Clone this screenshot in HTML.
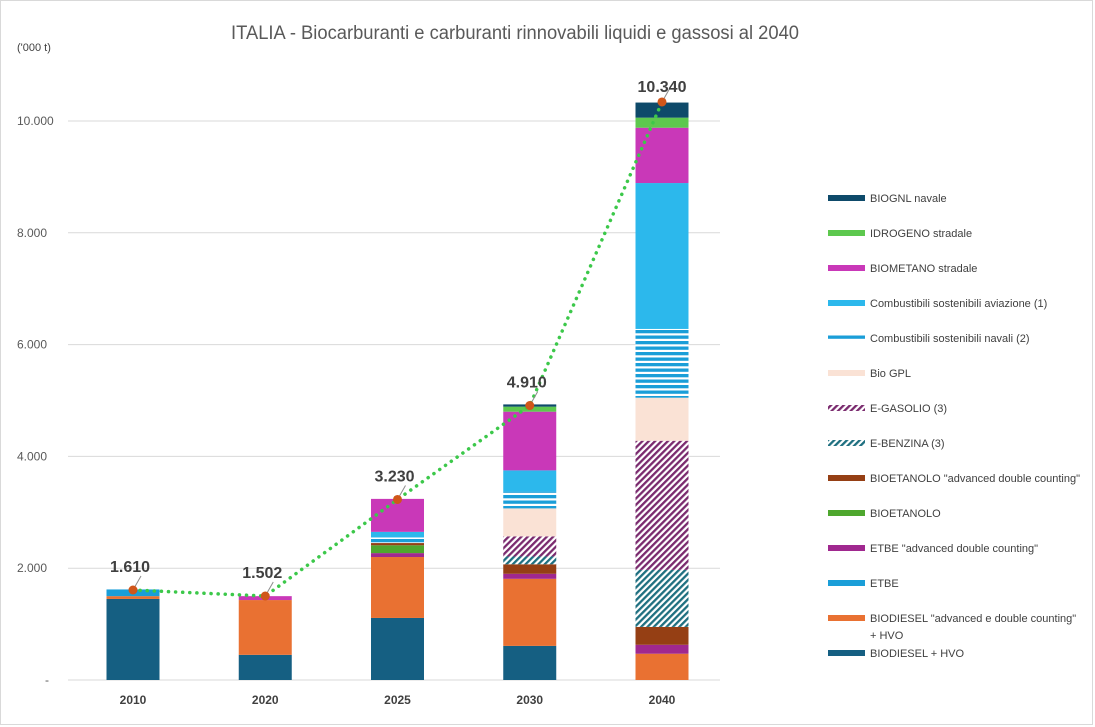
<!DOCTYPE html>
<html><head><meta charset="utf-8">
<style>
html,body{margin:0;padding:0;background:#fff;}
svg{display:block;font-family:"Liberation Sans",sans-serif;}
</style></head>
<body>
<svg id="chart" width="1095" height="727" viewBox="0 0 1095 727">
<defs>
<pattern id="pGas" patternUnits="userSpaceOnUse" width="4.5" height="4.5" patternTransform="rotate(45)">
<rect width="4.5" height="4.5" fill="#fff"/><rect width="2.3" height="4.5" fill="#7a2a6e"/></pattern>
<pattern id="pBenz" patternUnits="userSpaceOnUse" width="4.5" height="4.5" patternTransform="rotate(45)">
<rect width="4.5" height="4.5" fill="#fff"/><rect width="2.3" height="4.5" fill="#1e6f80"/></pattern>
<pattern id="pNav" patternUnits="userSpaceOnUse" width="6" height="5.5">
<rect width="6" height="5.5" fill="#fff"/><rect width="6" height="3.3" fill="#1a9ed8"/></pattern>
</defs>
<rect x="0.5" y="0.5" width="1092" height="724" fill="#fff" stroke="#d9d9d9"/>
<text x="515" y="39" text-anchor="middle" font-size="19" fill="#595959" textLength="568" lengthAdjust="spacingAndGlyphs">ITALIA - Biocarburanti e carburanti rinnovabili liquidi e gassosi  al 2040</text>
<text x="17" y="51" font-size="11" fill="#404040">('000 t)</text>
<g id="grid"></g><g id="bars"></g><g id="line"></g><g id="legend"></g>
</svg>
<script>
const years = ["2010","2020","2025","2030","2040"];
const totals = [1610,1502,3230,4910,10340];
const totalLabels = ["1.610","1.502","3.230","4.910","10.340"];
const yTicks = [0,2000,4000,6000,8000,10000];
const yTickLabels = ["-","2.000","4.000","6.000","8.000","10.000"];
const seriesNames = ["BIODIESEL  + HVO","BIODIESEL  \"advanced e double counting\"","ETBE","ETBE \"advanced double counting\"","BIOETANOLO","BIOETANOLO \"advanced double counting\"","E-BENZINA (3)","E-GASOLIO (3)","Bio GPL","Combustibili sostenibili navali (2)","Combustibili sostenibili aviazione (1)","BIOMETANO stradale","IDROGENO stradale","BIOGNL navale"];
const sBiodiesel = [1450,450,1110,610,0];
const sBiodieselAdv = [50,980,1090,1200,470];
const sEtbe = [120,0,0,0,0];
const sEtbeAdv = [0,0,70,90,160];
const sBioetanolo = [0,0,140,0,0];
const sBioetanoloAdv = [0,0,40,170,320];
const sEBenzina = [0,0,0,140,1020];
const sEGasolio = [0,0,0,360,2310];
const sBioGpl = [0,0,0,500,770];
const sNavali = [0,0,100,300,1230];
const sAviazione = [0,0,100,380,2610];
const sBiometano = [0,70,590,1050,990];
const sIdrogeno = [0,0,0,90,180];
const sBiognl = [0,0,0,40,270];
const seriesData = [sBiodiesel,sBiodieselAdv,sEtbe,sEtbeAdv,sBioetanolo,sBioetanoloAdv,sEBenzina,sEGasolio,sBioGpl,sNavali,sAviazione,sBiometano,sIdrogeno,sBiognl];
const fills = ["#155f82","#e97132","#1a9ed8","#a0288f","#4ea72e","#953f14","url(#pBenz)","url(#pGas)","#fae2d5","url(#pNav)","#2cb8ec","#c938b8","#5dc84e","#0e4a6a"];
const keys = ["biodiesel","biodiesel-adv","etbe","etbe-adv","bioetanolo","bioetanolo-adv","e-benzina","e-gasolio","bio-gpl","navali","aviazione","biometano","idrogeno","biognl"];

const NS="http://www.w3.org/2000/svg";
function mk(tag,attrs,parent){const e=document.createElementNS(NS,tag);for(const k in attrs)e.setAttribute(k,attrs[k]);parent.appendChild(e);return e;}
const y0=680, pxPer=559/10000;
function yS(v){return y0-v*pxPer;}
function xS(i){return 133+i*132.25;}
const bw=53;
const grid=document.getElementById('grid');
yTicks.forEach((t,i)=>{
  const l=mk('line',{x1:68,x2:720,y1:yS(t),y2:yS(t),stroke:'#d9d9d9','stroke-width':1},grid);
  
  
  const tx=mk('text',{x:i===0?45:17,y:yS(t)+4,'font-size':12,fill:'#595959'},grid);
  tx.textContent=yTickLabels[i];
  
  
});
const bars=document.getElementById('bars');
years.forEach((yr,i)=>{
  let acc=0;
  seriesData.forEach((s,j)=>{
    const v=s[i]; if(v<=0) return;
    const r=mk('rect',{x:xS(i)-bw/2,y:yS(acc+v),width:bw,height:v*pxPer,fill:fills[j]},bars);
    
    
    acc+=v;
  });
  const xl=mk('text',{x:xS(i),y:704,'text-anchor':'middle','font-size':12,'font-weight':'bold',fill:'#404040'},bars);
  xl.textContent=yr;
  
  
});
const lg=document.getElementById('line');
const pts=totals.map((t,i)=>xS(i)+','+yS(t)).join(' ');
const pl=mk('polyline',{points:pts,fill:'none',stroke:'#3cc84a','stroke-width':3.5,'stroke-dasharray':'0.1 7','stroke-linecap':'round'},lg);


totals.forEach((t,i)=>{
  const x=xS(i), y=yS(t);
  const ld=mk('line',{x1:x,y1:y,x2:x+8,y2:y-14,stroke:'#8c8c8c','stroke-width':1},lg);
  
  
  const c=mk('circle',{cx:x,cy:y,r:4.5,fill:'#d0561a'},lg);
  
  
  const tl=mk('text',{x:x+(i===4?0:-3),y:i===4?y-10:y-18,'text-anchor':'middle','font-size':16,'font-weight':'bold',fill:'#404040'},lg);
  tl.textContent=totalLabels[i];
  
  
});
const leg=document.getElementById('legend');
const legOrder=[13,12,11,10,9,8,7,6,5,4,3,2,1,0];
const legY=[198,233,268,303,338,373,408,443,478,513,548,583,618,653];
legOrder.forEach((j,k)=>{
  const y=legY[k];
  const r=mk('rect',{x:828,y:y-3,width:37,height:6,fill:fills[j]},leg);
  
  
  const t=mk('text',{x:870,y:y+4,'font-size':11,fill:'#404040'},leg);
  t.textContent=seriesNames[j];
  
  
  if(j===1){
    const t2=mk('text',{x:870,y:y+21,'font-size':11,fill:'#404040'},leg);
    t2.textContent='+ HVO';
    
    
  }
});
</script>
</body></html>
